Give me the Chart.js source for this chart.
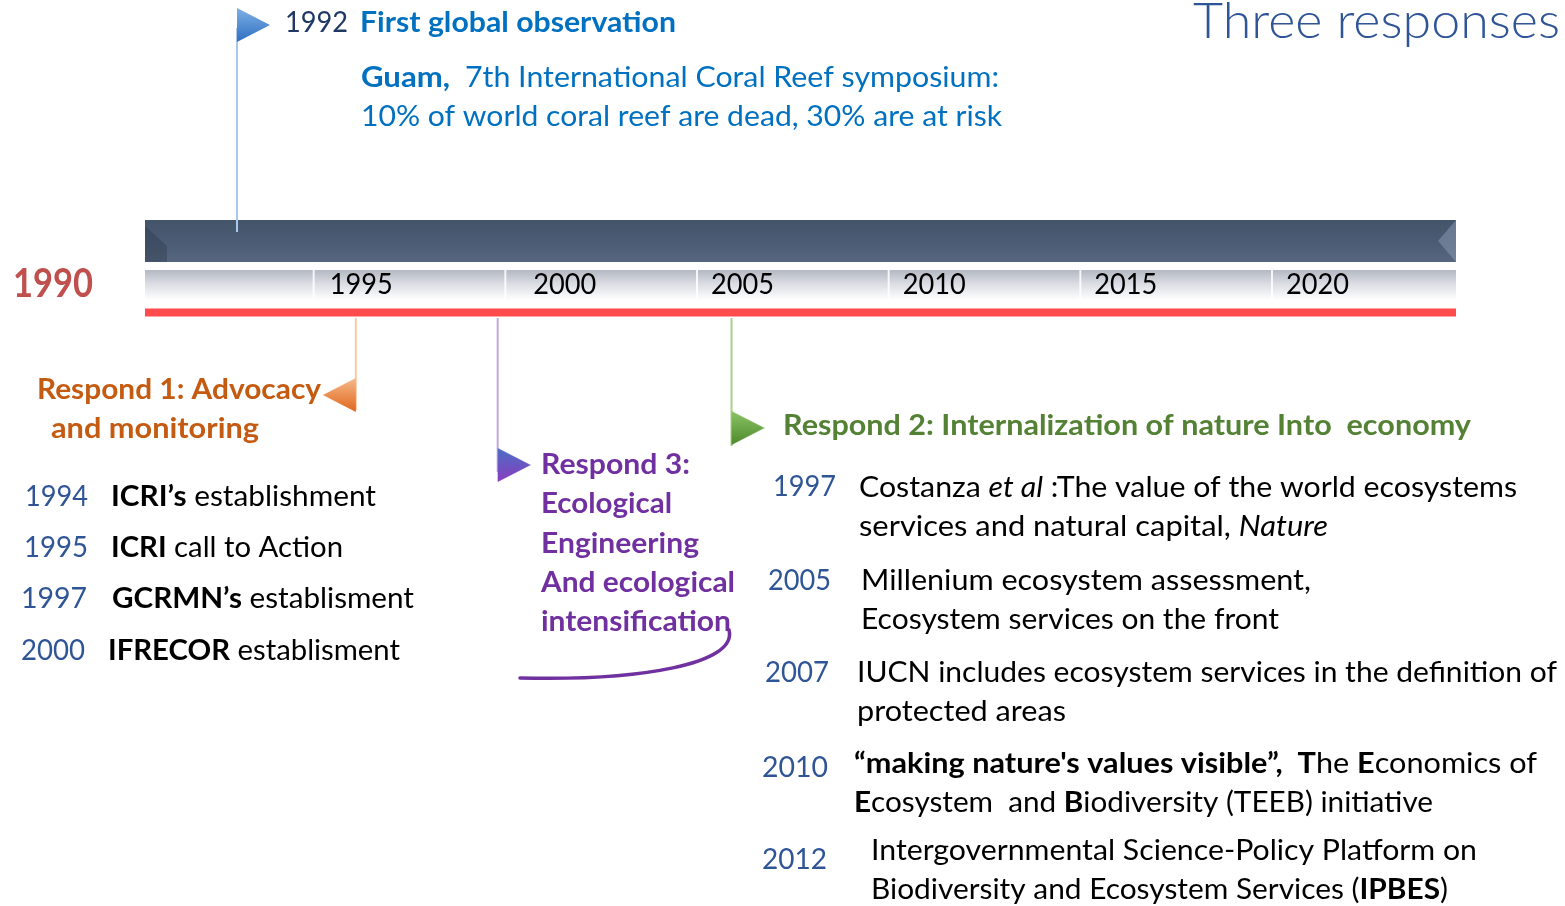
<!DOCTYPE html>
<html>
<head>
<meta charset="utf-8">
<script src="https://cdn.jsdelivr.net/npm/chart.js@4.4.1/dist/chart.umd.min.js"></script>
<style>
  html, body { margin: 0; padding: 0; background: #fff; overflow: hidden; }
  canvas { display: block; }
</style>
</head>
<body>
<canvas id="timeline" width="1565" height="906"></canvas>
<script>
// ---- data ----
const startLabel = "1990";
const axisSpan = [1990.6, 2024.8];               // where the timeline bar starts / ends
const tickYears = [1995, 2000, 2005, 2010, 2015, 2020];
const flagNames = ["First global observation", "Respond 1", "Respond 3", "Respond 2"];
const flagYears = [1993.0, 1996.1, 1999.8, 2005.9]; // where each flag stem meets the axis

const respond1Years = ["1994", "1995", "1997", "2000"];
const respond1Items = [
  "**ICRI’s** establishment",
  "**ICRI** call to Action",
  "**GCRMN’s** establisment",
  "**IFRECOR** establisment"
];
const respond3Lines = ["Respond 3:", "Ecological", "Engineering", "And ecological", "intensification"];
const respond2Years = ["1997", "2005", "2007", "2010", "2012"];
const respond2Items = [
  ["Costanza _et al_ :The value of the world ecosystems", "services and natural capital, _Nature_"],
  ["Millenium ecosystem assessment,", "Ecosystem services on the front"],
  ["IUCN includes ecosystem services in the definition of", "protected areas"],
  ["**“making nature's values visible”,  T**he **E**conomics of", "**E**cosystem  and **B**iodiversity (TEEB) initiative"],
  ["Intergovernmental Science-Policy Platform on", "Biodiversity and Ecosystem Services (**IPBES**)"]
];

// ---- layout (vertical rows in page units, y axis runs top -> bottom) ----
const FONT = "Lato";
const darkBandY = 241, grayBandY = 285, redLineY = 312.5;
const tickNudge = [16, 28, 14, 14, 14, 14];
const flagY = [25, 395, 465, 428];
const stemTop = [28, 318, 318, 318];
const stemBottom = [232, 410, 472, 446];
const flagColors = [
  ["#7fb0e6", "#2e6fc0"],
  ["#f6b98a", "#e0661c"],
  ["#4a6fc4", "#8a3cc0"],
  ["#8cc466", "#4c8a2c"]
];
const stemColors = ["#a9c8ec", "#f7c9a6", "#c4a8dd", "#a8cf8c"];

function makeFlag(dir, c1, c2) {
  const w = 33, h = 34;
  const c = document.createElement("canvas");
  c.width = w * 2; c.height = h;
  const g = c.getContext("2d");
  const grad = g.createLinearGradient(0, 0, 0, h);
  grad.addColorStop(0, c1);
  grad.addColorStop(1, c2);
  g.fillStyle = grad;
  g.beginPath();
  if (dir === "right") { g.moveTo(w, 0); g.lineTo(2 * w, h / 2); g.lineTo(w, h); }
  else { g.moveTo(w, 0); g.lineTo(0, h / 2); g.lineTo(w, h); }
  g.closePath();
  g.fill();
  return c;
}

// text runs: **bold**, _italic_
function parseRuns(str) {
  const out = [];
  let bold = false, ital = false, buf = "";
  for (let i = 0; i < str.length; i++) {
    if (str[i] === "*" && str[i + 1] === "*") {
      if (buf) out.push([buf, bold, ital]);
      buf = ""; bold = !bold; i++;
    } else if (str[i] === "_") {
      if (buf) out.push([buf, bold, ital]);
      buf = ""; ital = !ital;
    } else buf += str[i];
  }
  if (buf) out.push([buf, bold, ital]);
  return out;
}

function drawText(ctx, str, x, y, size, color, fitW, opts) {
  opts = opts || {};
  const runs = parseRuns(str);
  const fontOf = (b, it) => (it ? "italic " : "") + (b || opts.bold ? "bold " : (opts.weight ? opts.weight + " " : "")) + size + "px " + FONT;
  let total = 0;
  runs.forEach(r => { ctx.font = fontOf(r[1], r[2]); total += ctx.measureText(r[0]).width; });
  const sx = fitW ? fitW / total : 1;
  ctx.save();
  ctx.translate(x, y);
  ctx.scale(sx, 1);
  ctx.fillStyle = color;
  ctx.textBaseline = "alphabetic";
  ctx.textAlign = "left";
  let cx = 0;
  runs.forEach(r => {
    ctx.font = fontOf(r[1], r[2]);
    ctx.fillText(r[0], cx, 0);
    cx += ctx.measureText(r[0]).width;
  });
  ctx.restore();
}

const slideText = {
  id: "slideText",
  afterDatasetsDraw(chart) {
    const ctx = chart.ctx, xs = chart.scales.x, ys = chart.scales.y;
    // cell separators in the grey band
    ctx.save();
    ctx.strokeStyle = "rgba(255,255,255,0.85)";
    ctx.lineWidth = 2;
    tickYears.forEach(t => {
      const px = xs.getPixelForValue(t);
      ctx.beginPath();
      ctx.moveTo(px, ys.getPixelForValue(grayBandY - 15));
      ctx.lineTo(px, ys.getPixelForValue(grayBandY + 15));
      ctx.stroke();
    });
    // bevelled ends of the dark bar
    const x0 = xs.getPixelForValue(axisSpan[0]), x1 = xs.getPixelForValue(axisSpan[1]);
    const yt = ys.getPixelForValue(darkBandY - 21), yb = ys.getPixelForValue(darkBandY + 21);
    ctx.fillStyle = "rgba(40,52,70,0.35)";
    ctx.beginPath();
    ctx.moveTo(x0, yt + 6); ctx.lineTo(x0 + 22, yb - 16); ctx.lineTo(x0 + 22, yb); ctx.lineTo(x0, yb);
    ctx.closePath(); ctx.fill();
    ctx.fillStyle = "rgba(150,165,190,0.45)";
    ctx.beginPath();
    ctx.moveTo(x1, yt); ctx.lineTo(x1 - 18, yt + 21); ctx.lineTo(x1, yb);
    ctx.closePath(); ctx.fill();
    ctx.restore();
  },
  afterDraw(chart) {
    const ctx = chart.ctx, xs = chart.scales.x;
    const blue = "#0070c0", navy = "#2f5597";

    // title
    drawText(ctx, "Three responses", 1193, 38, 50, navy, 367, { weight: 300 });

    // axis labels
    drawText(ctx, startLabel, 13, 297, 40, "#c0504d", 80, { bold: true });
    tickYears.forEach((t, i) => drawText(ctx, String(t), xs.getPixelForValue(t) + tickNudge[i], 294, 28, "#000", 63));

    // 1992 block
    drawText(ctx, "1992", 285, 32, 28, "#203864", 63);
    drawText(ctx, "**" + flagNames[0] + "**", 360, 32, 28, blue, 316);
    drawText(ctx, "**Guam,**", 361, 87, 28, blue, 89);
    drawText(ctx, "7th International Coral Reef symposium:", 465, 87, 28, blue, 534);
    drawText(ctx, "10% of world coral reef are dead, 30% are at risk", 361, 126, 28, blue, 641);

    // Respond 1
    const orange = "#c55a11";
    drawText(ctx, "Respond 1: Advocacy", 37, 399, 29, orange, 284, { bold: true });
    drawText(ctx, "and monitoring", 51, 438, 29, orange, 208, { bold: true });
    const r1 = [[25, 506, 63, 111, 265], [24, 557, 64, 111, 232], [21, 608, 66, 112, 302], [21, 660, 64, 108, 292]];
    respond1Years.forEach((yr, i) => {
      const L = r1[i];
      drawText(ctx, yr, L[0], L[1], 29, navy, L[2]);
      drawText(ctx, respond1Items[i], L[3], L[1], 29, "#000", L[4]);
    });

    // Respond 3
    const purple = "#7030a0";
    const r3w = [149, 131, 158, 194, 190];
    respond3Lines.forEach((s, i) => drawText(ctx, s, 541, 474 + i * 39.3, 29, purple, r3w[i], { bold: true }));
    ctx.save();
    ctx.strokeStyle = purple;
    ctx.lineWidth = 3.5;
    ctx.lineCap = "round";
    ctx.beginPath();
    ctx.moveTo(520, 678);
    ctx.bezierCurveTo(640, 681, 738, 664, 729, 630);
    ctx.stroke();
    ctx.restore();

    // Respond 2
    drawText(ctx, "Respond 2: Internalization of nature Into  economy", 783, 435, 29, "#548235", 688, { bold: true });
    const r2 = [
      [773, 496, 63, 859, 497, [658, 469]],
      [768, 590, 63, 861, 590, [450, 418]],
      [765, 682, 64, 857, 682, [700, 209]],
      [762, 777, 66, 854, 773, [683, 579]],
      [762, 869, 65, 871, 860, [606, 577]]
    ];
    respond2Years.forEach((yr, i) => {
      const L = r2[i];
      drawText(ctx, yr, L[0], L[1], 29, navy, L[2]);
      respond2Items[i].forEach((line, k) => drawText(ctx, line, L[3], L[4] + k * 39, 29, "#000", L[5][k]));
    });
  }
};

function vGrad(chart, yCenter, half, stops) {
  const ys = chart.scales.y;
  if (!ys || !chart.chartArea) return stops[1][1];
  const y0 = ys.getPixelForValue(yCenter - half), y1 = ys.getPixelForValue(yCenter + half);
  if (!isFinite(y0) || !isFinite(y1)) return stops[1][1];
  const g = chart.ctx.createLinearGradient(0, y0, 0, y1);
  stops.forEach(s => g.addColorStop(s[0], s[1]));
  return g;
}

function build() {
  const flagImgs = [
    makeFlag("right", flagColors[0][0], flagColors[0][1]),
    makeFlag("left", flagColors[1][0], flagColors[1][1]),
    makeFlag("right", flagColors[2][0], flagColors[2][1]),
    makeFlag("right", flagColors[3][0], flagColors[3][1])
  ];

  const stemSets = flagYears.map((yr, i) => ({
    label: flagNames[i] + " stem",
    data: [{ x: yr, y: stemTop[i] }, { x: yr, y: stemBottom[i] }],
    borderColor: stemColors[i],
    borderWidth: 2,
    pointRadius: 0,
    order: 1
  }));

  new Chart(document.getElementById("timeline"), {
    type: "line",
    data: {
      datasets: [
        {
          type: "scatter",
          label: "flags",
          data: flagYears.map((yr, i) => ({ x: yr, y: flagY[i] })),
          pointStyle: flagImgs,
          pointRadius: 17,
          order: 0
        },
        ...stemSets,
        {
          label: "axis line",
          data: [{ x: axisSpan[0], y: redLineY }, { x: axisSpan[1], y: redLineY }],
          borderColor: "#ff4b4b",
          borderWidth: 8,
          borderCapStyle: "butt",
          pointRadius: 0,
          order: 3
        },
        {
          label: "year band",
          data: [{ x: axisSpan[0], y: grayBandY }, { x: axisSpan[1], y: grayBandY }],
          borderColor: c => vGrad(c.chart, grayBandY, 15, [[0, "#b3b8c2"], [0.45, "#d9dce2"], [1, "#ffffff"]]),
          borderWidth: 30,
          borderCapStyle: "butt",
          pointRadius: 0,
          order: 3
        },
        {
          label: "timeline",
          data: [{ x: axisSpan[0], y: darkBandY }, { x: axisSpan[1], y: darkBandY }],
          borderColor: c => vGrad(c.chart, darkBandY, 21, [[0, "#44546a"], [0.5, "#4b5b73"], [1, "#56667f"]]),
          borderWidth: 42,
          borderCapStyle: "butt",
          pointRadius: 0,
          order: 2
        }
      ]
    },
    options: {
      responsive: false,
      animation: false,
      events: [],
      layout: { autoPadding: false, padding: { left: 145, right: 109, top: 0, bottom: 0 } },
      scales: {
        x: { type: "linear", min: axisSpan[0], max: axisSpan[1], display: false },
        y: { type: "linear", min: 0, max: 906, reverse: true, display: false }
      },
      plugins: {
        legend: { display: false },
        tooltip: { enabled: false }
      },
      elements: { line: { tension: 0 } },
      clip: false
    },
    plugins: [slideText]
  });
}

const loads = ["28px Lato", "bold 28px Lato", "italic 28px Lato", "300 50px Lato"].map(f => document.fonts.load(f).catch(() => null));
Promise.all(loads).then(build, build);
</script>
</body>
</html>
